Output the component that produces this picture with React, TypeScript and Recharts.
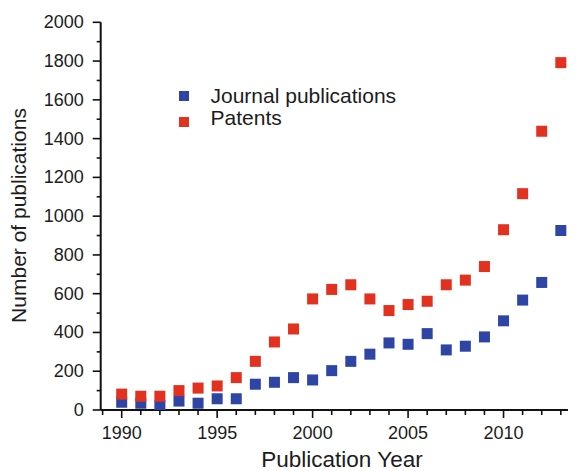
import React from 'react';
import { ScatterChart, Scatter, XAxis, YAxis, Legend } from 'recharts';

// Yearly counts, 1990–2013
const years = [
  1990, 1991, 1992, 1993, 1994, 1995, 1996, 1997, 1998, 1999, 2000, 2001,
  2002, 2003, 2004, 2005, 2006, 2007, 2008, 2009, 2010, 2011, 2012, 2013,
];
const journalCounts = [
  40, 35, 22, 46, 35, 58, 58, 133, 143, 167, 155, 203,
  251, 288, 346, 339, 394, 310, 329, 377, 460, 567, 658, 926,
];
const patentCounts = [
  82, 71, 71, 100, 113, 124, 167, 251, 351, 418, 573, 622,
  646, 573, 513, 544, 561, 646, 670, 740, 930, 1116, 1438, 1792,
];

const yearTicks = [
  1989, 1990, 1991, 1992, 1993, 1994, 1995, 1996, 1997, 1998, 1999, 2000, 2001,
  2002, 2003, 2004, 2005, 2006, 2007, 2008, 2009, 2010, 2011, 2012, 2013,
];
const yearLabels = [1990, 1995, 2000, 2005, 2010];
const countTicks = [
  0, 100, 200, 300, 400, 500, 600, 700, 800, 900, 1000,
  1100, 1200, 1300, 1400, 1500, 1600, 1700, 1800, 1900, 2000,
];
const countLabels = [0, 200, 400, 600, 800, 1000, 1200, 1400, 1600, 1800, 2000];
const rightTicks = [100, 300, 500, 700, 900, 1100, 1300, 1500, 1700, 1900];

const journalData = years.map((year, i) => ({ year, count: journalCounts[i] }));
const patentData = years.map((year, i) => ({ year, count: patentCounts[i] }));

const FONT = '"Liberation Sans", Arial, Helvetica, sans-serif';
const TEXT = '#1c1c1c';
const AXIS = '#111';
const BLUE = '#2f45a6';
const RED = '#e2311f';
const X_DOMAIN = [1988.9, 2013.9];

const Square = (props: any) => {
  const { cx, cy, fill } = props;
  const s = 11;
  return <rect x={cx - s / 2} y={cy - s / 2} width={s} height={s} fill={fill} />;
};

const XTick = ({ x, y, payload }: any) => {
  const major = yearLabels.includes(payload.value);
  return (
    <g>
      <line x1={x} y1={y} x2={x} y2={y + (major ? 8 : 5)} stroke={AXIS} strokeWidth={1.6} />
      {major && (
        <text x={x} y={y + 23} textAnchor="middle" dominantBaseline="central"
          fontFamily={FONT} fontSize={18} fill={TEXT}>
          {payload.value}
        </text>
      )}
    </g>
  );
};

const YTick = ({ x, y, payload }: any) => {
  const major = countLabels.includes(payload.value);
  return (
    <g>
      <line x1={x} y1={y} x2={x - (major ? 8 : 4)} y2={y} stroke={AXIS} strokeWidth={1.6} />
      {major && (
        <text x={x - 17} y={y} textAnchor="end" dominantBaseline="central"
          fontFamily={FONT} fontSize={18} fill={TEXT}>
          {payload.value}
        </text>
      )}
    </g>
  );
};

// short inward marks on the right frame edge
const RightTick = ({ x, y }: any) => (
  <line x1={x} y1={y} x2={x - 5} y2={y} stroke="#999" strokeWidth={1} />
);

const XTitle = () => (
  <text x={334} y={458.5} textAnchor="middle" fontFamily={FONT} fontSize={22.5} fill={TEXT}>
    Publication Year
  </text>
);

const YTitle = () => (
  <text x={10.5} y={207.5} transform="rotate(-90 10.5 207.5)" textAnchor="middle"
    dominantBaseline="central" fontFamily={FONT} fontSize={21} fill={TEXT}>
    Number of publications
  </text>
);

// legend drawn as a small svg block: square swatch + label per series
const LegendBox = ({ payload }: any) => (
  <svg width={240} height={44} style={{ display: 'block', overflow: 'visible' }}>
    {(payload || []).map((item: any, i: number) => (
      <g key={item.value}>
        <rect x={3} y={3 + i * 26} width={10} height={10} fill={item.color} />
        <text x={34.5} y={15.3 + i * 21.7} fontFamily={FONT} fontSize={21} fill={TEXT}>
          {item.value}
        </text>
      </g>
    ))}
  </svg>
);

export default function App() {
  return (
    <div style={{ width: 568, height: 463, overflow: 'hidden', position: 'relative' }}>
      <ScatterChart width={590} height={463} margin={{ top: 14.3, right: 20, bottom: 0, left: 32.7 }}>
        <XAxis
          dataKey="year"
          type="number"
          domain={X_DOMAIN}
          ticks={yearTicks}
          interval={0}
          allowDataOverflow
          height={61}
          tickSize={0}
          tickMargin={0}
          tickLine={false}
          tick={XTick}
          axisLine={{ stroke: AXIS, strokeWidth: 2 }}
          label={<XTitle />}
        />
        <XAxis
          xAxisId="top"
          orientation="top"
          type="number"
          domain={X_DOMAIN}
          height={0}
          tick={false}
          tickLine={false}
          axisLine={{ stroke: AXIS, strokeWidth: 2 }}
        />
        <YAxis
          dataKey="count"
          type="number"
          domain={[0, 2000]}
          ticks={countTicks}
          interval={0}
          allowDataOverflow
          width={60}
          tickSize={0}
          tickMargin={0}
          tickLine={false}
          tick={YTick}
          axisLine={{ stroke: AXIS, strokeWidth: 2 }}
          label={<YTitle />}
        />
        <YAxis
          yAxisId="right"
          orientation="right"
          type="number"
          domain={[0, 2000]}
          ticks={rightTicks}
          interval={0}
          width={0}
          tickSize={0}
          tickMargin={0}
          tickLine={false}
          tick={RightTick}
          axisLine={false}
        />
        <Legend
          layout="vertical"
          align="center"
          verticalAlign="middle"
          wrapperStyle={{ top: 80, left: 168, width: 'auto' }}
          content={<LegendBox />}
        />
        <Scatter name="Journal publications" data={journalData} fill={BLUE} shape={Square} isAnimationActive={false} />
        <Scatter name="Patents" data={patentData} fill={RED} shape={Square} isAnimationActive={false} />
      </ScatterChart>
    </div>
  );
}
